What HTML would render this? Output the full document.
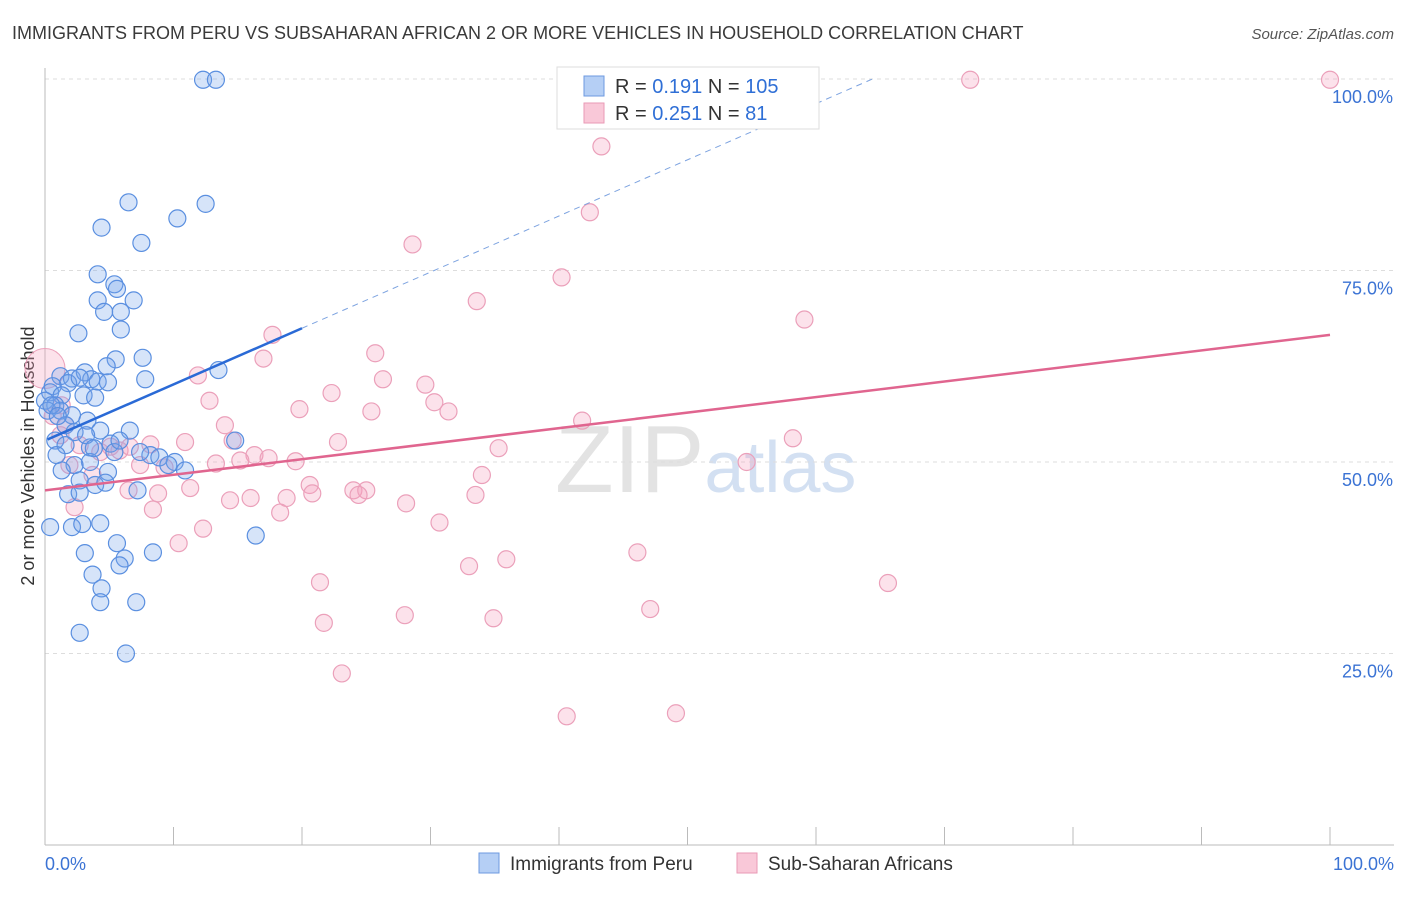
<!DOCTYPE html>
<html><head><meta charset="utf-8"><style>
body{margin:0;background:#fff;font-family:"Liberation Sans",sans-serif;}
svg text{font-family:"Liberation Sans",sans-serif;}
</style></head><body>
<svg id="chart" width="1406" height="892" viewBox="0 0 1406 892">
<text x="12" y="39" font-size="18" fill="#3a3a3a">IMMIGRANTS FROM PERU VS SUBSAHARAN AFRICAN 2 OR MORE VEHICLES IN HOUSEHOLD CORRELATION CHART</text>
<text x="1394" y="39" font-size="15" fill="#555" text-anchor="end" font-style="italic">Source: ZipAtlas.com</text>
<text x="555" y="492" font-size="96" fill="#ddd" font-family="Liberation Serif" opacity="0.8">ZIP<tspan fill="#c9d9ef" font-family="Liberation Sans" font-size="72">atlas</tspan></text>
<text transform="translate(34,456) rotate(-90)" font-size="18" fill="#333" text-anchor="middle">2 or more Vehicles in Household</text>
<g id="grid"></g><g id="pinkpts"></g><g id="bluepts"></g><g id="lines"></g>
<g>
<rect x="557" y="67" width="262" height="62" fill="#fff" stroke="#ddd"/>
<rect x="584" y="76" width="20" height="20" fill="#b5cff5" stroke="#6d9ae0"/>
<rect x="584" y="103" width="20" height="20" fill="#f9c8d8" stroke="#e99ab6"/>
<text x="615" y="93" font-size="20" fill="#333">R = <tspan fill="#2f6fd6">0.191</tspan>   N = <tspan fill="#2f6fd6">105</tspan></text>
<text x="615" y="120" font-size="20" fill="#333">R = <tspan fill="#2f6fd6">0.251</tspan>   N = <tspan fill="#2f6fd6">  81</tspan></text>
</g>
<g>
<rect x="479" y="853" width="20" height="20" fill="#b5cff5" stroke="#6d9ae0"/>
<text x="510" y="870" font-size="19" fill="#333">Immigrants from Peru</text>
<rect x="737" y="853" width="20" height="20" fill="#f9c8d8" stroke="#e99ab6"/>
<text x="768" y="870" font-size="19" fill="#333">Sub-Saharan Africans</text>
</g>
</svg>
<script>
const blueX=[12.3,13.3,6.5,12.5,10.3,4.4,7.5,4.1,5.4,5.6,4.1,6.9,4.6,5.9,5.9,2.6,7.6,5.5,4.8,13.5,1.2,2.1,3.1,3.6,4.1,4.9,7.8,1.8,2.7,0.6,0.4,1.3,3.0,3.9,0,0.8,0.2,1.2,2.1,3.3,1.6,4.3,6.6,2.3,0.8,5.1,3.5,14.8,8.2,8.9,5.4,3.5,2.3,1.3,4.9,10.1,10.9,2.7,3.9,4.7,7.2,1.8,2.7,0.4,2.1,2.9,4.3,5.6,8.4,3.1,6.2,5.8,3.7,4.4,4.3,7.1,2.7,6.3,16.4,0.5,1.0,1.6,0.9,3.2,3.8,7.4,9.6,5.8];
const blueY=[99.9,99.9,83.9,83.7,81.8,80.6,78.6,74.5,73.2,72.6,71.1,71.1,69.6,69.6,67.3,66.8,63.6,63.4,62.5,62.0,61.2,60.9,61.7,60.8,60.5,60.4,60.8,60.3,61.0,59.9,59.1,58.7,58.7,58.4,58.0,57.4,56.7,56.7,56.1,55.4,54.8,54.1,54.1,53.9,52.8,52.4,51.9,52.8,50.9,50.6,51.3,50.0,49.6,48.9,48.7,50.0,48.9,47.6,47.0,47.3,46.3,45.8,46.0,41.5,41.5,41.9,42.0,39.4,38.2,38.1,37.4,36.5,35.3,33.5,31.7,31.7,27.7,25.0,40.4,57.4,56.0,52.2,50.9,53.5,51.8,51.3,49.6,52.8];
const pinkX=[72.0,100,43.3,42.4,28.6,40.2,33.6,59.1,17.7,17.0,25.7,11.9,26.3,29.6,30.3,31.4,22.3,19.8,25.4,12.8,14.0,14.6,22.8,41.8,58.2,35.3,10.9,8.2,16.3,17.4,15.2,13.3,19.5,54.6,34.0,9.3,7.4,5.1,5.8,4.3,3.7,1.9,20.6,20.8,24.0,25.0,24.4,33.5,11.3,8.8,6.5,16.0,14.4,18.8,28.1,8.4,18.3,30.7,12.3,10.4,46.1,35.9,33.0,21.4,65.6,47.1,28.0,34.9,21.7,23.1,40.6,49.1,2.3,1.2,1.3,2.7,1.6,6.6,0.6];
const pinkY=[99.9,99.9,91.2,82.6,78.4,74.1,71.0,68.6,66.6,63.5,64.2,61.3,60.8,60.1,57.8,56.6,59.0,56.9,56.6,58.0,54.8,52.8,52.6,55.4,53.1,51.8,52.6,52.3,50.9,50.5,50.2,49.8,50.1,50.0,48.3,49.3,49.6,52.0,51.5,51.3,48.3,49.6,47.0,45.9,46.3,46.3,45.7,45.7,46.6,45.9,46.3,45.3,45.0,45.3,44.6,43.8,43.4,42.1,41.3,39.4,38.2,37.3,36.4,34.3,34.2,30.8,30.0,29.6,29.0,22.4,16.8,17.2,44.1,53.5,57.4,52.2,54.8,52.0,56.0];
const yTicks=[25,50,75,100];
const yTickLabels=["25.0%","50.0%","75.0%","100.0%"];
const blueTrend=[52.8,0.733];  // intercept, slope
const pinkTrend=[46.3,0.203];
const NS="http://www.w3.org/2000/svg";
const X0=45,X1=1330,Y0=845,Y100=79;
const sx=v=>X0+(X1-X0)*v/100;
const sy=v=>Y0-(Y0-Y100)*v/100;
function mk(tag,attrs,parent){const e=document.createElementNS(NS,tag);for(const k in attrs)e.setAttribute(k,attrs[k]);parent.appendChild(e);return e;}
const grid=document.getElementById('grid');
yTicks.forEach((t,i)=>{
  const l=mk('line',{x1:X0,x2:1394,y1:sy(t),y2:sy(t),stroke:'#ddd','stroke-dasharray':'4,4'},grid);
  
  
  const tx=mk('text',{x:1393,y:sy(t)+24,'font-size':18,fill:'#3b73d4','text-anchor':'end'},grid);
  tx.textContent=yTickLabels[i];
  
  
});
const ax=mk('line',{x1:X0,x2:1394,y1:Y0,y2:Y0,stroke:'#bbb'},grid);


const ay=mk('line',{x1:X0,x2:X0,y1:68,y2:Y0,stroke:'#bbb'},grid);


for(let i=0;i<=10;i++){const t=mk('line',{x1:sx(i*10),x2:sx(i*10),y1:827,y2:Y0,stroke:'#bbb'},grid);
  
  }
const xl=mk('text',{x:45,y:870,'font-size':18,fill:'#3b73d4'},grid);xl.textContent='0.0%';


const xr=mk('text',{x:1394,y:870,'font-size':18,fill:'#3b73d4','text-anchor':'end'},grid);xr.textContent='100.0%';


const pg=document.getElementById('pinkpts');
pinkX.forEach((x,i)=>{const c=mk('circle',{cx:sx(x),cy:sy(pinkY[i]),r:(x===0?20:8.5),fill:'rgba(244,160,190,0.3)',stroke:'#eba0ba','stroke-width':1.2},pg);
  
  });
mk('circle',{cx:sx(0),cy:sy(62.2),r:20,fill:'rgba(244,160,190,0.3)',stroke:'#eba0ba'},pg);
const bg=document.getElementById('bluepts');
blueX.forEach((x,i)=>{const c=mk('circle',{cx:sx(x),cy:sy(blueY[i]),r:8.5,fill:'rgba(120,165,235,0.3)',stroke:'#5a8fe0','stroke-width':1.2},bg);
  
  });
const lg=document.getElementById('lines');
const bl=mk('line',{x1:sx(0.2),y1:sy(blueTrend[0]+blueTrend[1]*0.2),x2:sx(20),y2:sy(blueTrend[0]+blueTrend[1]*20),stroke:'#2a6ad6','stroke-width':2.5},lg);


const xe=(100-blueTrend[0])/blueTrend[1];
const bd=mk('line',{x1:sx(20),y1:sy(blueTrend[0]+blueTrend[1]*20),x2:sx(xe),y2:sy(100),stroke:'#7da3e0','stroke-width':1,'stroke-dasharray':'6,5'},lg);


const pl=mk('line',{x1:sx(0),y1:sy(pinkTrend[0]),x2:sx(100),y2:sy(pinkTrend[0]+pinkTrend[1]*100),stroke:'#e0658f','stroke-width':2.5},lg);


</script>
</body></html>
